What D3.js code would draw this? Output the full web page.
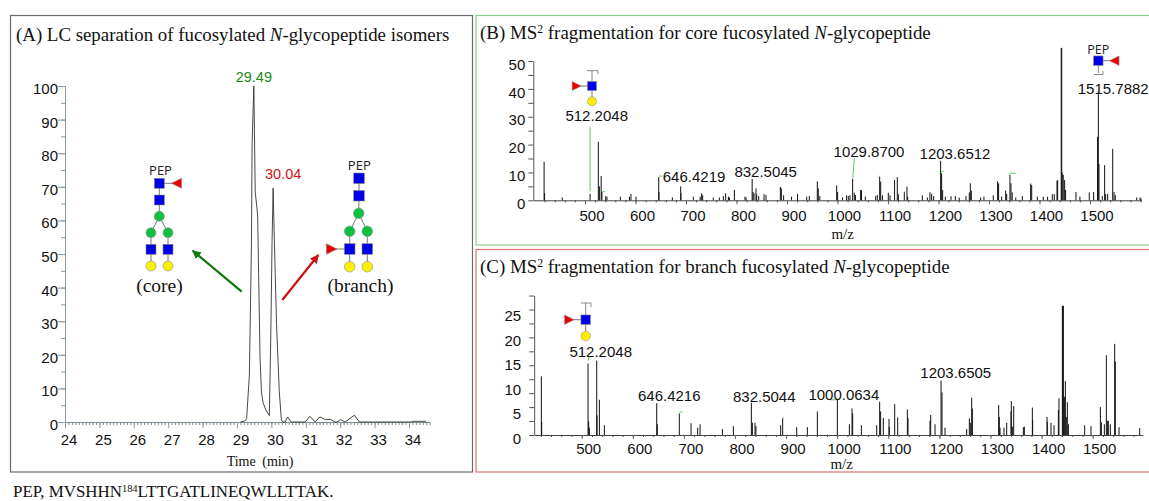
<!DOCTYPE html>
<html>
<head>
<meta charset="utf-8">
<script src="https://cdn.jsdelivr.net/npm/d3@7"></script>
<style>
  html, body { margin: 0; padding: 0; background: #fff; overflow: hidden; }
  svg { display: block; }
  .sans { font-family: "Liberation Sans", Arial, sans-serif; }
  .serif { font-family: "Liberation Serif", "Times New Roman", serif; }
</style>
</head>
<body>
<div id="chart"></div>
<script>
// LC trace, [time in min, relative abundance]
const lcTrace = [
  [29.1, 0], [29.23, 0.3], [29.28, 1], [29.36, 14], [29.42, 53], [29.44, 83], [29.49, 100],
  [29.53, 68.5], [29.6, 61.6], [29.67, 19], [29.71, 9], [29.76, 5.6], [29.84, 3.6], [29.94, 1.9],
  [29.98, 24], [30.02, 54], [30.05, 69.6], [30.08, 56.6], [30.15, 29], [30.23, 9], [30.29, 0.6],
  [30.33, 0], [30.4, 0], [30.47, 1.5], [30.57, 0], [30.98, 0], [31.12, 1.7], [31.27, 0], [31.41, 1.5],
  [31.56, 0.8], [31.73, 0.7], [31.85, 0], [31.9, 0], [32.01, 0.7], [32.14, 0], [32.41, 2], [32.56, 0],
  [34.09, 0], [34.1, 0.2], [34.5, 0.2]
]
const lcTimeTicks = [24, 25, 26, 27, 28, 29, 30, 31, 32, 33, 34]
const lcAbundanceTicks = [0, 10, 20, 30, 40, 50, 60, 70, 80, 90, 100]

// MS2 peaks, [m/z, intensity]
const corePeaks = [
  [419, 13.8], [420, 2.6], [455, 1], [510, 2.3], [526.4, 21], [528.5, 5], [532, 8.7], [533.6, 3], [541, 1.5], [543.5, 1.3],
  [570, 1.3], [588, 1.3], [591, 2.3], [601, 1.3], [646, 8.3], [646.5, 3], [673, 1], [689.5, 5], [690, 2.5],
  [714.5, 1.3], [728, 1.3], [731, 2.5], [733, 1.8], [754, 1], [766, 1], [774, 1.5], [778.5, 2.5], [784, 1.3], [786, 1],
  [795.8, 3.7], [816.8, 1.3], [819, 1], [831, 7.7], [832.7, 3], [834.7, 2.5], [838.6, 4.3], [840, 2], [844, 1.5],
  [854.5, 2.2], [858.4, 1.9], [886.8, 4.8], [888.8, 4.3], [893.3, 1.8], [909, 1.3], [921, 2.3], [939, 1.3], [944.2, 1.5],
  [960, 6.8], [962, 4.3], [965, 1.5], [998.3, 5.3], [1000.3, 3], [1010, 1], [1018, 1.8], [1021.4, 1.5], [1024.7, 1.8],
  [1030, 7.7], [1033.3, 2.7], [1035.5, 1.9], [1045.8, 3.7], [1047.5, 3.6], [1055, 1.3], [1075.5, 1.5], [1078.8, 1.9],
  [1083.5, 8.5], [1085.5, 6.7], [1089, 1.8], [1100.6, 2.7], [1104, 1.8], [1113, 7.3], [1118.4, 8.3], [1120.5, 2.2],
  [1132.3, 3.1], [1137.6, 4.9], [1139, 1.3], [1168, 1.8], [1178, 1], [1183, 2.9], [1186.4, 2.3], [1190.4, 1.5],
  [1204.2, 14.2], [1206.2, 9.7], [1208.2, 3.7], [1213.5, 1.3], [1224.7, 1.5], [1233.3, 1.5], [1241, 1], [1254.4, 1.5],
  [1261, 2.8], [1263, 6.1], [1265, 3.5], [1283.5, 1], [1290, 1.3], [1308.5, 1.8], [1317, 6.8], [1319, 6.1], [1325, 1.3],
  [1333, 3.5], [1335, 2.3], [1341.5, 9.2], [1343.5, 6.1], [1346, 2.8], [1353, 1], [1366, 1.5], [1382.5, 6], [1384.5, 5.5],
  [1395.7, 1.3], [1407.5, 1.3], [1416, 1.3], [1425.4, 2.2], [1429.3, 2.2], [1434.6, 7], [1436, 7.3], [1443, 54.7], [1444, 54.7],
  [1445, 9.9], [1447, 9.1], [1449.8, 7.3], [1451.7, 3.7], [1472.2, 3], [1480, 1.3], [1498.6, 2.8], [1507.2, 3],
  [1515, 22.8], [1516.5, 39], [1517.8, 13], [1524.4, 1.5], [1529, 12.6], [1531, 2.2], [1535, 2.3], [1545, 18.5],
  [1547.6, 3], [1550, 1.9], [1592.4, 1], [1599, 1], [1601, 0.7]
]
const branchPeaks = [
  [421, 12], [421.7, 2.7], [512.4, 14.6], [513.7, 2.8], [515, 1.5], [529.4, 15.2], [530, 4], [534.6, 7.2], [544.4, 2],
  [646.8, 6.5], [648, 2.2], [691, 4.4], [714, 2.4], [727, 1.5], [731.6, 2.2], [775.3, 1.2], [796.8, 1.8], [832, 6.6],
  [834, 2.5], [839.2, 2.5], [841, 1.8], [889.4, 2], [893.3, 3.4], [920.7, 1.6], [941.6, 1.6], [961.2, 4.8], [1000.3, 7.2],
  [1023.8, 2.2], [1029, 5.4], [1030.3, 4.4], [1047.3, 2], [1077.3, 2], [1083.1, 6.8], [1085, 4.8], [1090.3, 3.5],
  [1101.4, 3.3], [1102, 1.7], [1112.5, 6.3], [1118.4, 3.6], [1137.3, 5.2], [1138.6, 3.4], [1181.6, 2.9], [1183, 4.1],
  [1191.4, 2.2], [1203.2, 11.1], [1205.1, 8.7], [1211, 1.5], [1253.4, 1.2], [1258.6, 3.4], [1261.2, 2.5], [1263.2, 7.6],
  [1264.5, 5.4], [1316, 6.1], [1317.3, 3.7], [1318.6, 1.5], [1326.4, 1.5], [1331.7, 2.5], [1340.1, 4.8], [1340.8, 6.9],
  [1342.8, 1.7], [1345.4, 5.9], [1364.3, 1.6], [1366.2, 1.7], [1381.9, 5.6], [1382.5, 3.1], [1410.6, 3.7], [1411.2, 2.7],
  [1418.4, 2.5], [1424.3, 2], [1432.8, 5.1], [1434, 7.5], [1440.6, 26.4], [1441.6, 26.4], [1442.6, 26.4], [1444.6, 7.8],
  [1446.5, 11], [1448.4, 3.7], [1450.4, 6.7], [1452.4, 2.2], [1484.3, 2], [1496.7, 1.8], [1515, 5.7], [1517, 2.6],
  [1522.8, 2.2], [1526.7, 16.3], [1528.7, 2.9], [1530.6, 2.9], [1534.5, 2.2], [1543, 18.6], [1544.3, 15], [1551.5, 1.6],
  [1592, 1.4]
]

const coreTicks = [0, 5, 10, 15, 20, 25, 30, 35, 40, 45, 50]
const coreLabels = [0, 10, 20, 30, 40, 50]
const branchTicks = [0, 2.85, 5.7, 8.55, 11.4, 14.25, 17.1, 19.95, 22.8, 25.65, 28.5]
const branchLabels = [0, 5, 10, 15, 20, 25]
const mzLabels = [500, 600, 700, 800, 900, 1000, 1100, 1200, 1300, 1400, 1500]

// fragment labels, [text, m/z under label centre, intensity of baseline]
const coreFragments = [
  ["512.2048", 523.2, 28.4], ["646.4219", 716, 6.5], ["832.5045", 857.8, 8.5],
  ["1029.8700", 1062.4, 15.4], ["1203.6512", 1232.7, 14.9], ["1515.7882", 1546, 38]
]
const branchFragments = [
  ["512.2048", 537.2, 16], ["646.4216", 671.4, 7], ["832.5044", 857.3, 6.8],
  ["1000.0634", 1013, 7.2], ["1203.6505", 1232, 11.7]
]
// green leader lines from labels to peaks, [mz1, int1, mz2, int2]
const coreLeaders = [
  [510, 26.2, 510, 3.2], [646.5, 8.7, 653, 8.7], [534, 3.1, 540, 3.1], [1033.3, 15, 1030.2, 8],
  [1204.5, 10.4, 1210, 10.4], [1341.5, 9.7, 1353, 9.7], [1083.5, 9, 1084, 9]
]
const branchLeaders = [
  [512.4, 15.2, 514.5, 16], [691, 4.7, 697, 4.7], [987, 7.2, 1000, 7.2], [893.3, 3.6, 895, 3.6], [1263.2, 8, 1264, 8],
  [1543, 18.9, 1544, 18.9]
]

const wrapper = d3.select("#chart")
  .append("svg")
  .attr("width", 1149)
  .attr("height", 501)

// panel frames
const frames = wrapper.append("g").attr("fill", "none")
frames.append("rect").attr("x", 10.5).attr("y", 15.5).attr("width", 462).attr("height", 456.5).attr("stroke", "#6b6b6b").attr("stroke-width", 1.2)
frames.append("rect").attr("x", 476).attr("y", 15.5).attr("width", 680).attr("height", 229.5).attr("stroke", "#8ecb8e").attr("stroke-width", 1.2)
frames.append("rect").attr("x", 476).attr("y", 249.5).attr("width", 680).attr("height", 222.5).attr("stroke", "#e07070").attr("stroke-width", 1.2)

// text with mixed italic and superscript runs
function richText(x, y, size, runs) {
  const t = wrapper.append("text").attr("class", "serif").attr("x", x).attr("y", y)
    .attr("font-size", size).attr("fill", "#111")
  runs.forEach(r => {
    const span = t.append("tspan").text(r.text)
    if (r.italic) span.attr("font-style", "italic")
    if (r.sup) span.attr("baseline-shift", "super").attr("font-size", size * 0.62)
  })
  return t
}

richText(16, 40.5, 18.85, [{ text: "(A) LC separation of fucosylated " }, { text: "N", italic: true }, { text: "-glycopeptide isomers" }])
richText(480, 39, 18.9, [{ text: "(B) MS" }, { text: "2", sup: true }, { text: " fragmentation for core fucosylated " }, { text: "N", italic: true }, { text: "-glycopeptide" }])
richText(480, 272.5, 18.9, [{ text: "(C) MS" }, { text: "2", sup: true }, { text: " fragmentation for branch fucosylated " }, { text: "N", italic: true }, { text: "-glycopeptide" }])
richText(13, 497, 16.9, [{ text: "PEP, MVSHHN" }, { text: "184", sup: true }, { text: "LTTGATLINEQWLLTTAK." }])

// style the tick text and lines of an axis group
function styleAxis(g, lineColor, size) {
  g.selectAll("path").attr("stroke", lineColor)
  g.selectAll("line").attr("stroke", lineColor)
  g.selectAll("text")
    .attr("class", "sans")
    .attr("font-size", size)
    .attr("font-family", "Liberation Sans")
    .attr("fill", "#111")
}

// (A) chromatogram
const lcX = d3.scaleLinear().domain([24, 34.6]).range([65, 65 + 10.6 * 34.4])
const lcY = d3.scaleLinear().domain([0, 100]).range([422, 86])
const lcAxisColor = "#8a9ca3"

wrapper.append("g").attr("transform", "translate(0,422)")
  .call(d3.axisBottom(lcX).tickValues(d3.range(24, 34.55, 0.1)).tickSize(3).tickFormat(""))
  .call(g => styleAxis(g, "#7d8c90", 15))
wrapper.append("g").attr("transform", "translate(0,422)")
  .call(d3.axisBottom(lcX).tickValues(lcTimeTicks).tickSize(6).tickPadding(6).tickFormat(d3.format("d")))
  .call(g => styleAxis(g, lcAxisColor, 15))
  .call(g => g.select(".domain").remove())
  .call(g => g.selectAll("text").attr("dx", 3.5))
wrapper.append("g").attr("transform", "translate(65,0)")
  .call(d3.axisLeft(lcY).tickValues(d3.range(0, 101, 5)).tickSize(4).tickFormat(""))
  .call(g => styleAxis(g, lcAxisColor, 15))
wrapper.append("g").attr("transform", "translate(65,0)")
  .call(d3.axisLeft(lcY).tickValues(lcAbundanceTicks).tickSize(7).tickPadding(0))
  .call(g => styleAxis(g, lcAxisColor, 15))
  .call(g => g.select(".domain").remove())
  .call(g => g.selectAll("text").attr("dy", "0.5em"))

const lcLine = d3.line().x(d => lcX(d[0])).y(d => lcY(d[1]))
wrapper.append("path").datum(lcTrace)
  .attr("d", lcLine).attr("fill", "none").attr("stroke", "#333").attr("stroke-width", 0.9)

wrapper.append("text").attr("class", "sans").attr("x", lcX(29.49)).attr("y", 82)
  .attr("text-anchor", "middle").attr("font-size", 14.5).attr("fill", "#1a8a1a").text("29.49")
wrapper.append("text").attr("class", "sans").attr("x", lcX(30.05) + 10).attr("y", 179)
  .attr("text-anchor", "middle").attr("font-size", 14.5).attr("fill", "#cc1111").text("30.04")

wrapper.append("text").attr("class", "serif").attr("x", 260).attr("y", 466)
  .attr("text-anchor", "middle").attr("font-size", 14).attr("fill", "#111").attr("word-spacing", 3).text("Time (min)")

// arrows between the peaks and the glycans
const defs = wrapper.append("defs")
const addHead = (id, color) => defs.append("marker").attr("id", id)
  .attr("viewBox", "0 0 10 10").attr("refX", 9).attr("refY", 5)
  .attr("markerWidth", 4).attr("markerHeight", 4).attr("orient", "auto")
  .append("path").attr("d", "M0,0L10,5L0,10Z").attr("fill", color)
addHead("headGreen", "#0f7a0f")
addHead("headRed", "#cc1111")
wrapper.append("line").attr("x1", 241.7).attr("y1", 291.7).attr("x2", 192.7).attr("y2", 250.7)
  .attr("stroke", "#0f7a0f").attr("stroke-width", 2.2).attr("marker-end", "url(#headGreen)")
wrapper.append("line").attr("x1", 282.3).attr("y1", 300).attr("x2", 318.3).attr("y2", 255)
  .attr("stroke", "#cc1111").attr("stroke-width", 2.2).attr("marker-end", "url(#headRed)")

// glycan cartoons, node kinds: GlcNAc square, mannose/galactose circles, fucose triangle
function glycan(nodes, edges, size) {
  const g = wrapper.append("g")
  g.selectAll("line").data(edges).join("line")
    .attr("x1", d => nodes[d[0]].x).attr("y1", d => nodes[d[0]].y)
    .attr("x2", d => nodes[d[1]].x).attr("y2", d => nodes[d[1]].y)
    .attr("stroke", "#777").attr("stroke-width", 1)
  const s = size / 2
  nodes.forEach(n => {
    if (n.kind === "blue") {
      g.append("rect").attr("x", n.x - s).attr("y", n.y - s).attr("width", size).attr("height", size)
        .attr("fill", "#0000e6").attr("stroke", "#888").attr("stroke-width", 0.6)
    } else if (n.kind === "green" || n.kind === "yellow") {
      g.append("circle").attr("cx", n.x).attr("cy", n.y).attr("r", s)
        .attr("fill", n.kind === "green" ? "#0cc040" : "#fff000").attr("stroke", "#999").attr("stroke-width", 0.7)
    } else if (n.kind === "fucL") {
      g.append("path").attr("d", `M${n.x - s},${n.y}L${n.x + s},${n.y - s}L${n.x + s},${n.y + s}Z`)
        .attr("fill", "#ee0000").attr("stroke", "#888").attr("stroke-width", 0.6)
    } else if (n.kind === "fucR") {
      g.append("path").attr("d", `M${n.x + s},${n.y}L${n.x - s},${n.y - s}L${n.x - s},${n.y + s}Z`)
        .attr("fill", "#ee0000").attr("stroke", "#888").attr("stroke-width", 0.6)
    }
  })
}
const pepLabel = (x, y, size) => wrapper.append("text").attr("x", x).attr("y", y)
  .attr("text-anchor", "middle").attr("font-family", "Open Sans").attr("font-size", size).attr("fill", "#222").text("PEP")

glycan([
  { kind: "blue", x: 159.3, y: 183.3 }, { kind: "fucL", x: 176.5, y: 183.3 }, { kind: "blue", x: 159.3, y: 200 },
  { kind: "green", x: 159.3, y: 216.3 }, { kind: "green", x: 151, y: 232.7 }, { kind: "green", x: 168, y: 232.7 },
  { kind: "blue", x: 151, y: 249.3 }, { kind: "blue", x: 168, y: 249.3 }, { kind: "yellow", x: 151, y: 266 }, { kind: "yellow", x: 168, y: 266 }
], [[0, 1], [0, 2], [2, 3], [3, 4], [3, 5], [4, 6], [5, 7], [6, 8], [7, 9]], 10)
pepLabel(160.5, 175, 13)
glycan([
  { kind: "blue", x: 359, y: 178.3 }, { kind: "blue", x: 359, y: 195.7 }, { kind: "green", x: 358.7, y: 213.3 },
  { kind: "green", x: 349.7, y: 231.3 }, { kind: "green", x: 367.3, y: 231.3 }, { kind: "blue", x: 349.7, y: 249 },
  { kind: "blue", x: 367.3, y: 249 }, { kind: "yellow", x: 349.7, y: 266.7 }, { kind: "yellow", x: 367.3, y: 266.7 }, { kind: "fucR", x: 331.7, y: 249 }
], [[0, 1], [1, 2], [2, 3], [2, 4], [3, 5], [4, 6], [5, 7], [6, 8], [5, 9]], 10.6)
pepLabel(359.3, 169.5, 13)

wrapper.append("text").attr("class", "serif").attr("x", 159.5).attr("y", 292)
  .attr("text-anchor", "middle").attr("font-size", 19.5).attr("fill", "#111").text("(core)")
wrapper.append("text").attr("class", "serif").attr("x", 360.5).attr("y", 292)
  .attr("text-anchor", "middle").attr("font-size", 19.5).attr("fill", "#111").text("(branch)")

// (B) and (C) spectra
function drawSpectrum(cfg) {
  const x = d3.scaleLinear().domain([cfg.mzStart, cfg.mzEnd])
    .range([cfg.x500 + (cfg.mzStart - 500) * cfg.pxPerMz, cfg.x500 + (cfg.mzEnd - 500) * cfg.pxPerMz])
  const y = d3.scaleLinear().domain([0, cfg.yMax]).range([cfg.y0, cfg.y0 - cfg.yMax * cfg.pxPerInt])

  // x axis: minor ticks every 20, labelled ticks every 100, labels sit right of their ticks
  wrapper.append("g").attr("transform", `translate(0,${cfg.y0})`)
    .call(d3.axisBottom(x).tickValues(d3.range(420, cfg.mzEnd, 20)).tickSize(2).tickSizeOuter(0).tickFormat(""))
    .call(g => styleAxis(g, "#444", 15))
  wrapper.append("g").attr("transform", `translate(0,${cfg.y0})`)
    .call(d3.axisBottom(x).tickValues(mzLabels).tickSize(4).tickPadding(6).tickFormat(d3.format("d")))
    .call(g => styleAxis(g, "#666", 15))
    .call(g => g.select(".domain").remove())
    .call(g => g.selectAll("text").attr("dx", 6.5).attr("dy", cfg.labelDy))

  // y axis: tick lines and printed values do not share a spacing in the original
  wrapper.append("g").attr("transform", `translate(${x(cfg.mzStart)},0)`)
    .call(d3.axisLeft(y).tickValues(cfg.ticks).tickSize(5).tickSizeOuter(0).tickFormat(""))
    .call(g => styleAxis(g, "#555", 15))
  wrapper.append("g").attr("transform", `translate(${x(cfg.mzStart)},0)`)
    .call(d3.axisLeft(y).tickValues(cfg.labels).tickSize(0).tickPadding(cfg.labelPad))
    .call(g => styleAxis(g, "#555", 15))
    .call(g => g.select(".domain").remove())
    .call(g => g.selectAll("text").attr("dy", "0.55em"))

  wrapper.append("g").selectAll("line").data(cfg.peaks).join("line")
    .attr("x1", d => x(d[0])).attr("x2", d => x(d[0]))
    .attr("y1", cfg.y0).attr("y2", d => y(d[1]))
    .attr("stroke", "#111").attr("stroke-width", 1)

  wrapper.append("g").selectAll("line").data(cfg.leaders).join("line")
    .attr("x1", d => x(d[0])).attr("y1", d => y(d[1]))
    .attr("x2", d => x(d[2])).attr("y2", d => y(d[3]))
    .attr("stroke", "#55d055").attr("stroke-width", 1)

  wrapper.append("g").selectAll("text").data(cfg.fragments).join("text")
    .attr("class", "sans")
    .attr("x", d => x(d[1])).attr("y", d => y(d[2]))
    .attr("text-anchor", "middle").attr("font-size", 15).attr("fill", "#111")
    .text(d => d[0])

  wrapper.append("text").attr("class", "serif").attr("x", cfg.mzLabelX).attr("y", cfg.mzLabelY)
    .attr("text-anchor", "middle").attr("font-size", 15).attr("fill", "#111").text("m/z")
}

drawSpectrum({
  peaks: corePeaks, leaders: coreLeaders, fragments: coreFragments,
  ticks: coreTicks, labels: coreLabels, yMax: 50,
  x500: 585, pxPerMz: 0.505, y0: 200.3, pxPerInt: 2.786,
  mzStart: 397.6, mzEnd: 1602, labelDy: "0.71em", labelPad: 8,
  mzLabelX: 842.7, mzLabelY: 239
})
drawSpectrum({
  peaks: branchPeaks, leaders: branchLeaders, fragments: branchFragments,
  ticks: branchTicks, labels: branchLabels, yMax: 28.5,
  x500: 581.7, pxPerMz: 0.511, y0: 435, pxPerInt: 4.893,
  mzStart: 407, mzEnd: 1598, labelDy: "0.6em", labelPad: 13,
  mzLabelX: 841.7, mzLabelY: 469
})

// small glycans on the spectra
const stub = (pts) => wrapper.append("path").attr("d", d3.line()(pts)).attr("fill", "none").attr("stroke", "#888").attr("stroke-width", 1)
stub([[592, 86], [592, 70.7]]); stub([[587, 70.7], [598, 70.7], [598, 74]])
glycan([{ kind: "blue", x: 592, y: 86 }, { kind: "fucR", x: 576.7, y: 86 }, { kind: "yellow", x: 592, y: 101.3 }], [[0, 1], [0, 2]], 9)
stub([[1098.3, 60.7], [1098.3, 73]]); stub([[1094, 74.5], [1103, 74.5], [1103, 71]])
glycan([{ kind: "blue", x: 1098.3, y: 60.7 }, { kind: "fucL", x: 1114.3, y: 60.7 }], [[0, 1]], 9.5)
pepLabel(1098.3, 53.5, 12.5)
stub([[585.7, 319.7], [585.7, 303]]); stub([[581, 303], [591, 303], [591, 307]])
glycan([{ kind: "blue", x: 585.7, y: 319.7 }, { kind: "fucR", x: 569.3, y: 319.7 }, { kind: "yellow", x: 585.7, y: 336 }], [[0, 1], [0, 2]], 9.5)
</script>
</body>
</html>
